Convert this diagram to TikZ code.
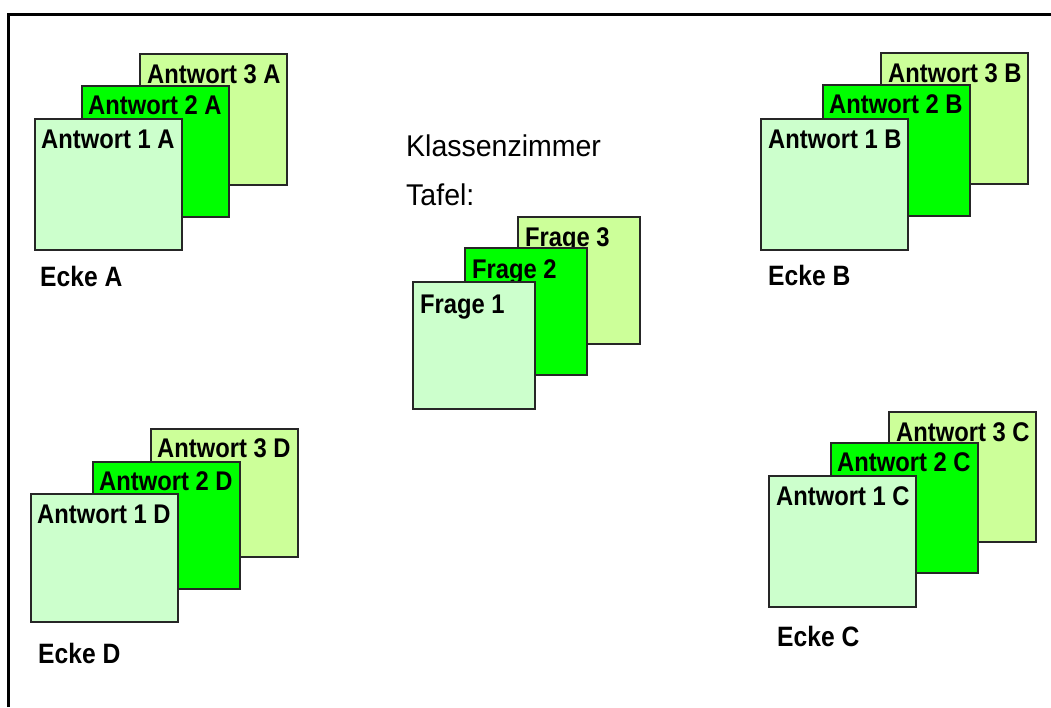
\documentclass[tikz,border=0pt]{standalone}
\usepackage{fontspec}
\setmainfont{Liberation Sans}
\newfontfamily\blattfont[FakeStretch=0.88]{Liberation Sans}
\newfontfamily\raumfont[FakeStretch=0.95]{Liberation Sans}
\usetikzlibrary{calc}
\definecolor{blatt1}{HTML}{CCFFCC}
\definecolor{blatt2}{HTML}{00FF00}
\definecolor{blatt3}{HTML}{CCFF99}
\tikzset{
  blatt/.style={draw=black!85,line width=2pt,inner sep=0pt,outer sep=0pt,anchor=north west,
    minimum width=147pt,minimum height=131pt},
  tafelblatt/.style={blatt,minimum width=122pt,minimum height=127pt},
  titel/.style={anchor=base west,inner sep=0pt,font=\blattfont\bfseries\fontsize{27}{30}\selectfont},
  ecke/.style={titel,font=\blattfont\bfseries\fontsize{28}{32}\selectfont},
  schrift/.style={anchor=base west,inner sep=0pt,font=\raumfont\fontsize{30}{34}\selectfont}
}

\begin{document}
\begin{tikzpicture}[x=1pt,y=-1pt]
\useasboundingbox (0,0) rectangle (1051,707);
\draw[line width=3pt] (8,707) -- (8,14) -- (1051,14);

% Ecke A
\node[blatt,fill=blatt3] (a3) at (140,54) {};
\node[titel] (ta3) at ($(a3.north west)+(7,29)$) {Antwort 3 A};
\node[blatt,fill=blatt2] (a2) at (82,86) {};
\node[titel] (ta2) at ($(a2.north west)+(6,28)$) {Antwort 2 A};
\node[blatt,fill=blatt1] (a1) at (35,119) {};
\node[titel] (ta1) at ($(a1.north west)+(6,29)$) {Antwort 1 A};
\node[ecke] (ea) at (40,286) {Ecke A};

% Ecke B
\node[blatt,fill=blatt3] (b3) at (881,53) {};
\node[titel] (tb3) at ($(b3.north west)+(7,29)$) {Antwort 3 B};
\node[blatt,fill=blatt2] (b2) at (823,85) {};
\node[titel] (tb2) at ($(b2.north west)+(6,28)$) {Antwort 2 B};
\node[blatt,fill=blatt1] (b1) at (761,119) {};
\node[titel] (tb1) at ($(b1.north west)+(7,29)$) {Antwort 1 B};
\node[ecke] (eb) at (768,285) {Ecke B};

% Tafel
\node[schrift] (zimmer) at (406,156) {Klassenzimmer};
\node[schrift] (tafel) at (406,205) {Tafel:};
\node[tafelblatt,fill=blatt3] (f3) at (518,217) {};
\node[titel] (tf3) at ($(f3.north west)+(7,29)$) {Frage 3};
\node[tafelblatt,fill=blatt2] (f2) at (465,248) {};
\node[titel] (tf2) at ($(f2.north west)+(7,30)$) {Frage 2};
\node[tafelblatt,fill=blatt1] (f1) at (413,282) {};
\node[titel] (tf1) at ($(f1.north west)+(7,31)$) {Frage 1};

% Ecke D
\node[blatt,fill=blatt3,minimum height=128pt] (d3) at (151,429) {};
\node[titel] (td3) at ($(d3.north west)+(6,28)$) {Antwort 3 D};
\node[blatt,fill=blatt2,minimum height=127pt] (d2) at (93,462) {};
\node[titel] (td2) at ($(d2.north west)+(6,28)$) {Antwort 2 D};
\node[blatt,fill=blatt1,minimum height=128pt] (d1) at (31,494) {};
\node[titel] (td1) at ($(d1.north west)+(6,29)$) {Antwort 1 D};
\node[ecke] (ed) at (38,663) {Ecke D};

% Ecke C
\node[blatt,fill=blatt3,minimum height=130pt] (c3) at (889,412) {};
\node[titel] (tc3) at ($(c3.north west)+(7,29)$) {Antwort 3 C};
\node[blatt,fill=blatt2,minimum height=130pt] (c2) at (831,443) {};
\node[titel] (tc2) at ($(c2.north west)+(6,28)$) {Antwort 2 C};
\node[blatt,fill=blatt1,minimum height=131pt] (c1) at (769,476) {};
\node[titel] (tc1) at ($(c1.north west)+(7,29)$) {Antwort 1 C};
\node[ecke] (ec) at (777,646) {Ecke C};
\end{tikzpicture}
\end{document}
